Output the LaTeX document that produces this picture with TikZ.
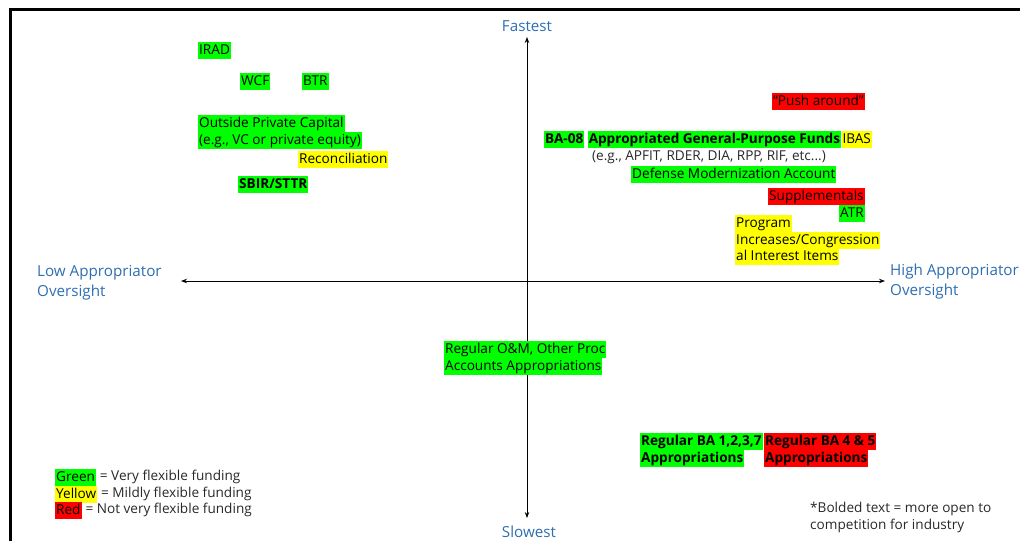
\documentclass[tikz,border=0pt]{standalone}
\usepackage{fontspec}
\setmainfont{Open Sans}
\usetikzlibrary{positioning,arrows.meta}
\definecolor{hlgreen}{RGB}{0,255,0}
\definecolor{hlyellow}{RGB}{255,255,0}
\definecolor{hlred}{RGB}{255,0,0}
\definecolor{axisblue}{RGB}{46,110,178}
\definecolor{plaintext}{RGB}{40,40,40}

\begin{document}
\begin{tikzpicture}[x=1pt, y=-1pt,
    lbl/.style={font=\fontsize{13.6}{17}\selectfont, inner sep=0pt, anchor=west},
    boldlbl/.style={font=\fontsize{13.6}{17}\selectfont\bfseries},
    hl/.style={lbl, inner xsep=1pt, text height=12.5pt, text depth=4.5pt},
    grn/.style={hl, fill=hlgreen},
    ylw/.style={hl, fill=hlyellow},
    rd/.style={hl, fill=hlred},
    plain/.style={lbl, text=plaintext, align=left},
    axislbl/.style={text=axisblue, font=\fontsize{15.2}{20}\selectfont, inner sep=0pt, align=left},
    axisline/.style={{Stealth[length=6pt,width=4.5pt]}-{Stealth[length=6pt,width=4.5pt]}, line width=0.9pt}]
      \useasboundingbox (0,0) rectangle (1020,541);
      \draw[line width=3pt] (1020,9.5) -- (10.5,9.5) -- (10.5,541);
      \coordinate (top) at (527,37);
      \coordinate (bot) at (527,518);
      \coordinate (lft) at (181,281);
      \coordinate (rgt) at (885,281);
      \draw[axisline] (top) -- (bot);
      \draw[axisline] (lft) -- (rgt);
      \node[axislbl] (fastest) at (527,26) {Fastest};
      \node[axislbl] (slowest) at (529,532) {Slowest};
      \node[axislbl, anchor=west] (low) at (37,282.5) {Low Appropriator\\Oversight};
      \node[axislbl, anchor=west] (high) at (890,282) {High Appropriator\\Oversight};
      \node[grn] (irad) at (198,50) {IRAD};
      \node[grn] (wcf) at (240,81) {WCF};
      \node[grn] (btr) at (302,81) {BTR};
      \node[grn] (opc1) at (198,123) {Outside Private Capital};
      \node[grn] (opc2) at (198,140) {(e.g., VC or private equity)};
      \node[ylw] (recon) at (298,159) {Reconciliation};
      \node[grn, boldlbl] (sbir) at (238,184) {SBIR/STTR};
      \node[rd] (push) at (772,101) {“Push around”};
      \node[grn, boldlbl] (ba08) at (544,139) {BA-08};
      \node[grn, boldlbl, right=3pt of ba08] (agpf) {Appropriated General-Purpose Funds};
      \node[ylw, right=0pt of agpf] (ibas) {IBAS};
      \node[plain, anchor=center] (eg) at (709,157) {(e.g., APFIT, RDER, DIA, RPP, RIF, etc...)};
      \node[grn] (dma) at (631,174) {Defense Modernization Account};
      \node[rd] (supp) at (768,196) {Supplementals};
      \node[grn, anchor=east] (atr) at (supp.east |- 0,213) {ATR};
      \node[ylw] (pi1) at (735,223) {Program};
      \node[ylw] (pi2) at (735,240) {Increases/Congression};
      \node[ylw] (pi3) at (735,256) {al Interest Items};
      \node[grn] (om1) at (444,349) {Regular O\&M, Other Proc};
      \node[grn] (om2) at (444,366) {Accounts Appropriations};
      \node[grn, boldlbl] (ba1) at (640,441) {Regular BA 1,2,3,7};
      \node[grn, boldlbl] (ba2) at (640,458) {Appropriations};
      \node[rd, boldlbl] (ba3) at (764,441) {Regular BA 4 \& 5};
      \node[rd, boldlbl] (ba4) at (764,458) {Appropriations};
      \node[grn] (keyg) at (55,477) {Green};
      \node[plain, right=0pt of keyg] (keyg2) {\ = Very flexible funding};
      \node[ylw] (keyy) at (55,494) {Yellow};
      \node[plain, right=0pt of keyy] (keyy2) {\ = Mildly flexible funding};
      \node[rd] (keyr) at (55,510) {Red};
      \node[plain, right=0pt of keyr] (keyr2) {\ = Not very flexible funding};
      \node[plain] (note) at (810,517) {*Bolded text = more open to\\competition for industry};
\end{tikzpicture}
\end{document}
